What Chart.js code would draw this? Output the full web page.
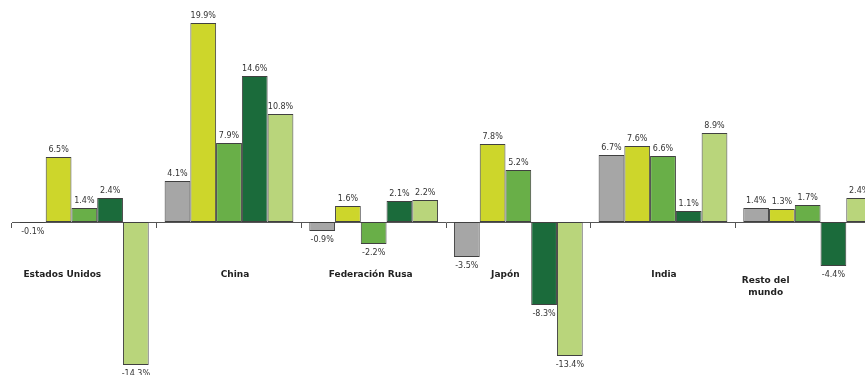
<!DOCTYPE html>
<html>
<head>
<meta charset="utf-8">
<script src="https://cdn.jsdelivr.net/npm/chart.js@4/dist/chart.umd.min.js"></script>
<style>
  html, body { margin: 0; padding: 0; background: #fff; overflow: hidden; }
  #wrap { width: 880px; height: 375px; }
</style>
</head>
<body>
<div id="wrap"><canvas id="chart"></canvas></div>
<script>
const regiones = ['Estados Unidos', 'China', 'Federación Rusa', 'Japón', 'India', ['Resto del', 'mundo']];

const serie1 = [-0.1, 4.1, -0.9, -3.5, 6.7, 1.4];
const serie2 = [6.5, 19.9, 1.6, 7.8, 7.6, 1.3];
const serie3 = [1.4, 7.9, -2.2, 5.2, 6.6, 1.7];
const serie4 = [2.4, 14.6, 2.1, -8.3, 1.1, -4.4];
const serie5 = [-14.3, 10.8, 2.2, -13.4, 8.9, 2.4];

const colores = ['#a6a6a6', '#cdd62b', '#69af48', '#1b6b3b', '#b9d57b'];

// desplazamiento horizontal de cada rótulo de región (como en el original, para no pisar las barras)
const desplazRotulo = [-22, 6, -3, -13, 1, -42];

// etiquetas de valor encima / debajo de cada barra
const etiquetas = {
  id: 'etiquetas',
  afterDatasetsDraw(chart) {
    const ctx = chart.ctx;
    ctx.save();
    ctx.font = '8px "DejaVu Sans"';
    ctx.fillStyle = '#333';
    ctx.textAlign = 'center';
    chart.data.datasets.forEach((ds, i) => {
      chart.getDatasetMeta(i).data.forEach((bar, j) => {
        const v = ds.data[j];
        const txt = v.toFixed(1) + '%';
        if (v >= 0) {
          ctx.textBaseline = 'bottom';
          ctx.fillText(txt, bar.x, bar.y - 3);
        } else {
          ctx.textBaseline = 'top';
          ctx.fillText(txt, bar.x, bar.y + 5);
        }
      });
    });

    // rótulos de región, bajo el eje
    const xs = chart.scales.x;
    const y0 = chart.scales.y.getPixelForValue(0);
    ctx.font = 'bold 9px "DejaVu Sans"';
    ctx.fillStyle = '#222';
    ctx.textBaseline = 'middle';
    chart.data.labels.forEach((lab, j) => {
      const lineas = Array.isArray(lab) ? lab : [lab];
      const x = xs.getPixelForValue(j) + desplazRotulo[j];
      const yIni = y0 + 53 + (lineas.length > 1 ? 6 : 0);
      lineas.forEach((l, k) => ctx.fillText(l, x, yIni + k * 12));
    });
    ctx.restore();
  }
};

const series = [serie1, serie2, serie3, serie4, serie5];

new Chart(document.getElementById('chart'), {
  type: 'bar',
  data: {
    labels: regiones,
    datasets: series.map((s, i) => ({
      data: s,
      backgroundColor: colores[i],
      borderColor: '#404040',
      borderWidth: 1,
      borderSkipped: false,
      barPercentage: 1,
      categoryPercentage: 0.89
    }))
  },
  options: {
    responsive: true,
    maintainAspectRatio: false,
    animation: false,
    layout: { padding: { left: 12, right: 0, top: 0, bottom: 0 } },
    plugins: {
      legend: { display: false },
      tooltip: { enabled: false }
    },
    scales: {
      y: {
        display: false,
        min: -15.3,
        max: 22.2
      },
      x: {
        position: { y: 0 },
        grid: {
          offset: true,
          drawOnChartArea: false,
          drawTicks: true,
          tickLength: 5,
          color: '#555'
        },
        border: { display: true, color: '#555', width: 1 },
        ticks: { display: false }
      }
    }
  },
  plugins: [etiquetas]
});
</script>
</body>
</html>
